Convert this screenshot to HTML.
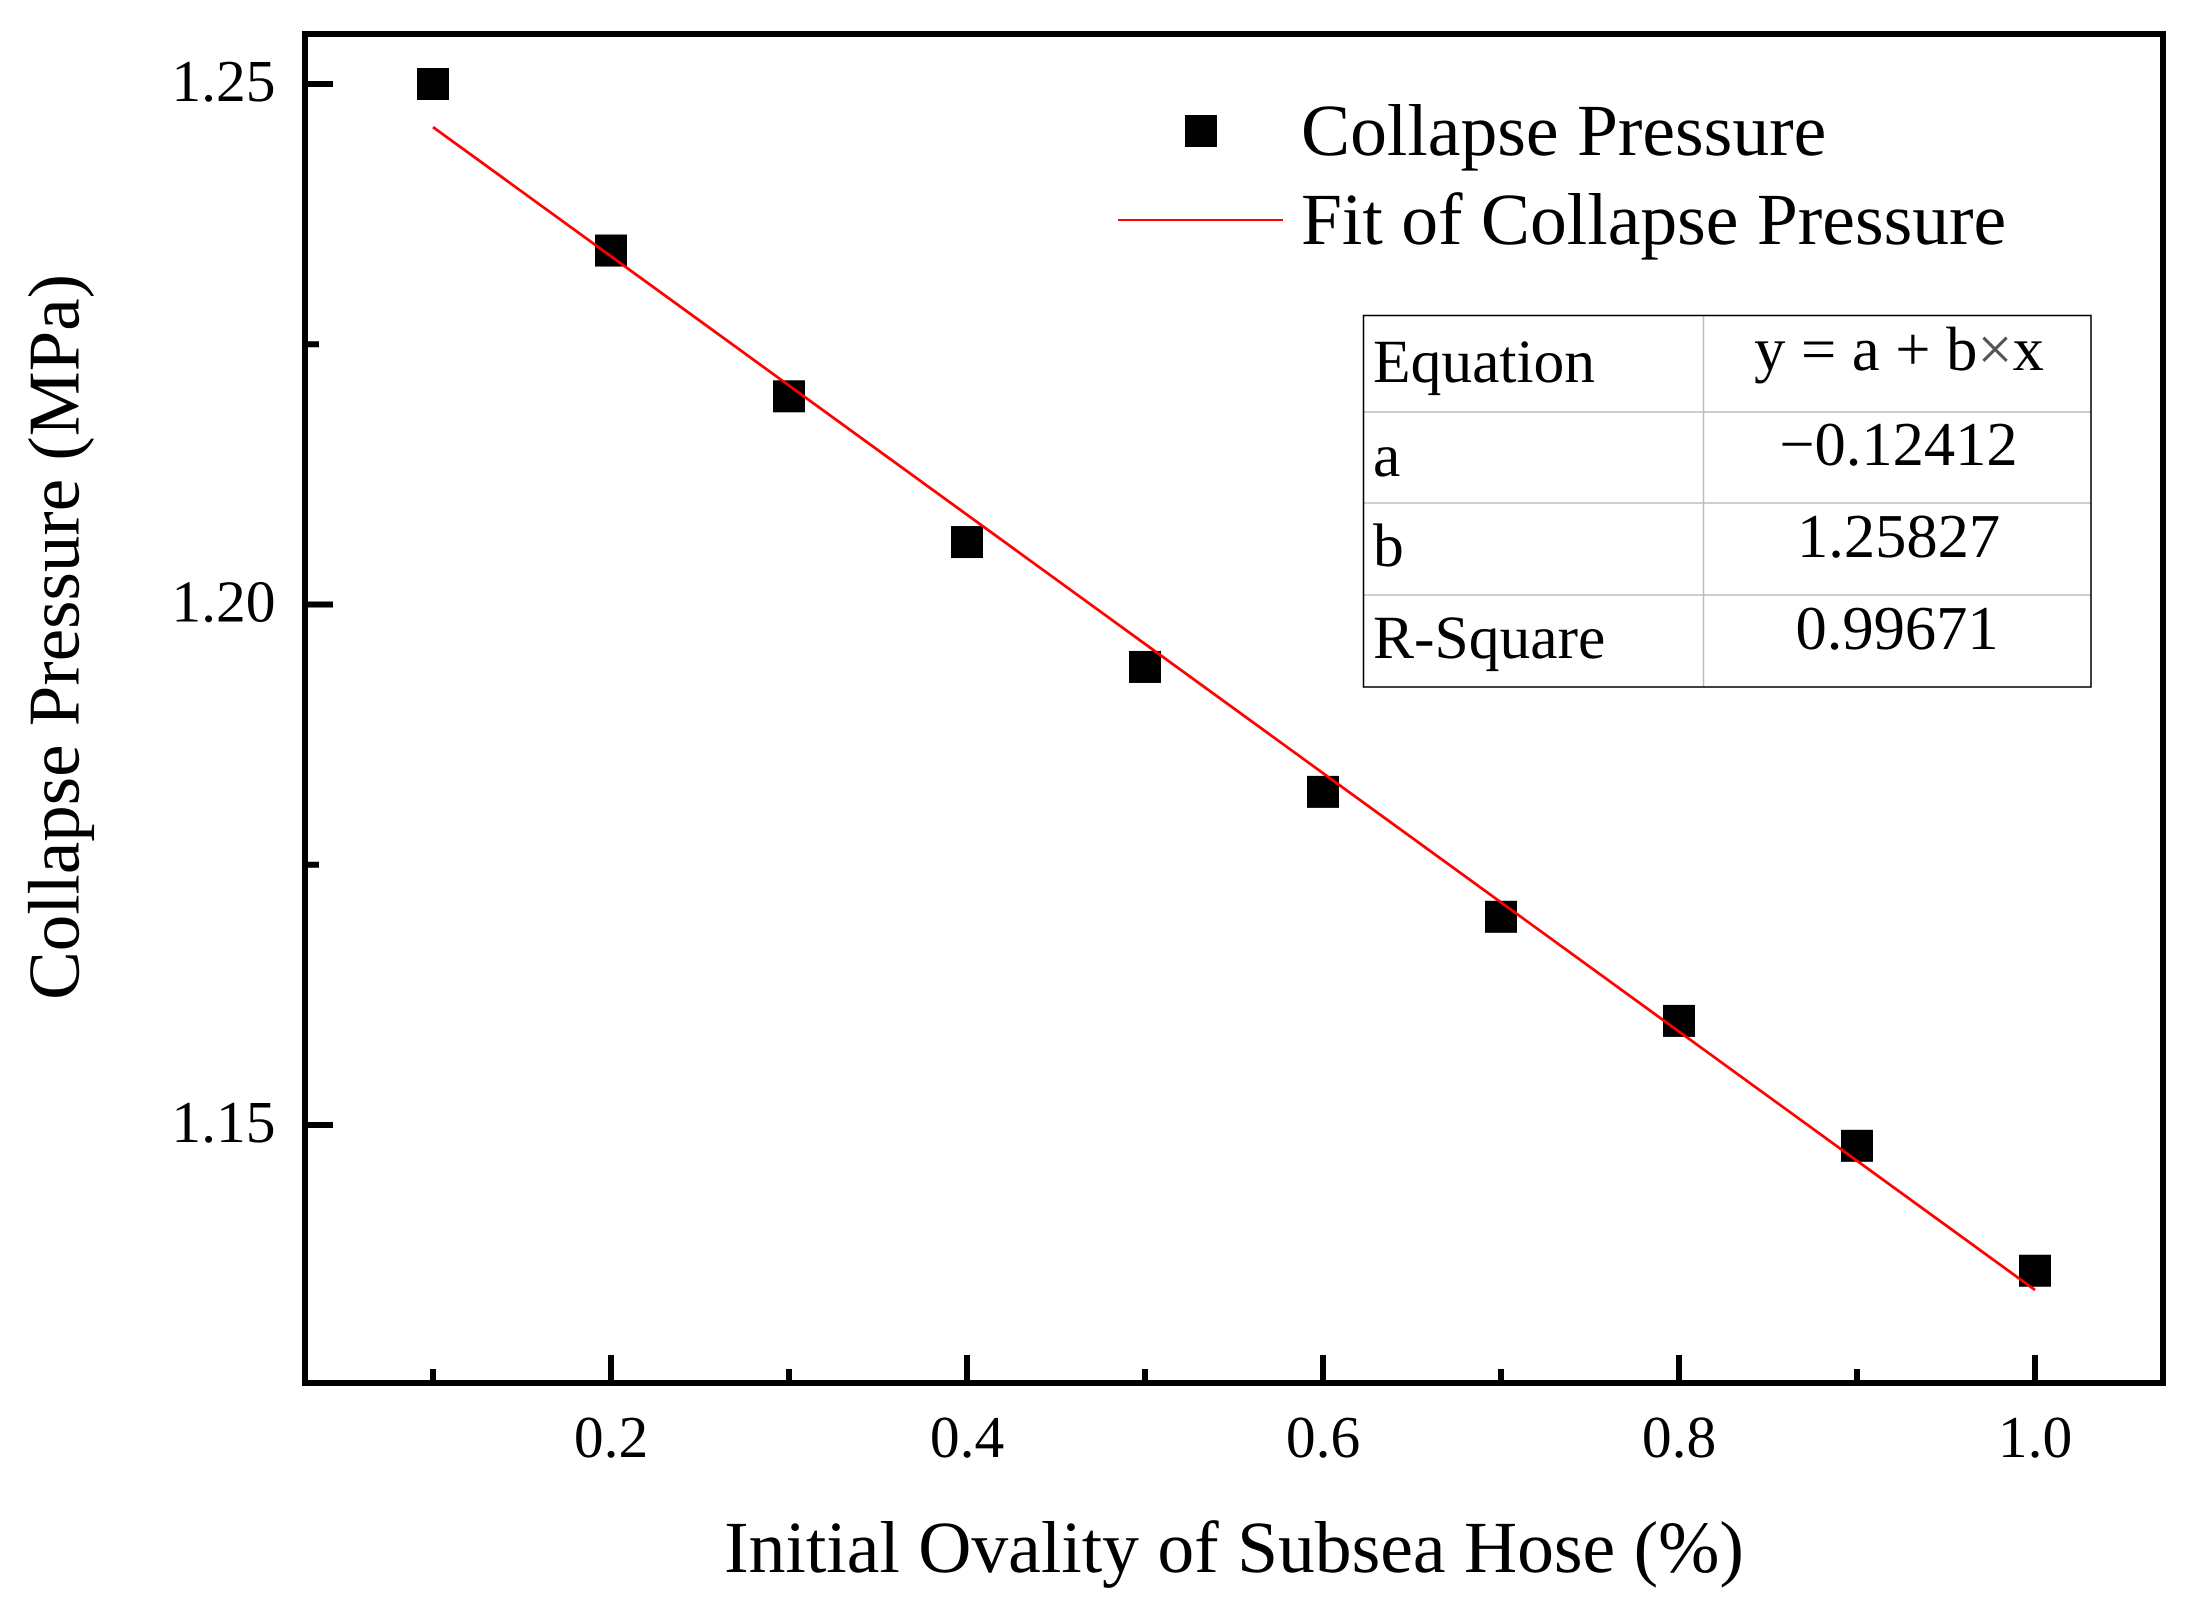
<!DOCTYPE html>
<html lang="en">
<head>
<meta charset="utf-8">
<title>Collapse Pressure vs Initial Ovality</title>
<style>
html,body{margin:0;padding:0;background:#fff;overflow:hidden;}
svg{display:block;}
text{font-family:"Liberation Serif","Times New Roman",serif;fill:#000;text-rendering:geometricPrecision;}
.leg,.title{font-size:73.6px;}
.tick{font-size:59.5px;}
.cell{font-size:61.5px;}
.val{font-size:62.5px;}
</style>
</head>
<body>
<svg id="chart" xmlns="http://www.w3.org/2000/svg" width="2200" height="1605" viewBox="0 0 2200 1605">
  <rect x="0" y="0" width="2200" height="1605" fill="#fff"/>
  <g id="ticks"></g>
  <g id="tick-labels"></g>
  <text class="title" x="1234" y="1572" text-anchor="middle">Initial Ovality of Subsea Hose (%)</text>
  <text style="font-size:73px" transform="translate(78.5 637) rotate(-90)" text-anchor="middle">Collapse Pressure (MPa)</text>
  <g id="points"></g>
  <g id="fit"></g>
  <rect x="305" y="34" width="1858" height="1349" fill="none" stroke="#000" stroke-width="6"/>
  <g>
    <rect x="1185" y="115" width="32" height="32" fill="#000"/>
    <text class="leg" x="1301" y="155">Collapse Pressure</text>
    <line x1="1118" y1="220" x2="1283" y2="220" stroke="#f00" stroke-width="2"/>
    <text class="leg" x="1301" y="244">Fit of Collapse Pressure</text>
  </g>
  <g>
    <line x1="1703.5" y1="316" x2="1703.5" y2="687" stroke="#bdbdbd" stroke-width="1.5"/>
    <line x1="1364" y1="412" x2="2091" y2="412" stroke="#bdbdbd" stroke-width="1.5"/>
    <line x1="1364" y1="503" x2="2091" y2="503" stroke="#bdbdbd" stroke-width="1.5"/>
    <line x1="1364" y1="595" x2="2091" y2="595" stroke="#bdbdbd" stroke-width="1.5"/>
    <rect x="1363.5" y="315.5" width="727.5" height="371.5" fill="none" stroke="#000" stroke-width="1.5"/>
    <text class="cell" x="1373" y="382">Equation</text>
    <text class="cell" x="1373" y="476">a</text>
    <text class="cell" x="1373" y="566">b</text>
    <text class="cell" x="1373" y="658">R-Square</text>
    <text class="val" x="1899" y="370" text-anchor="middle">y = a + b<tspan fill="#555">×</tspan>x</text>
    <text class="val" x="1898.5" y="465" text-anchor="middle">−0.12412</text>
    <text class="val" x="1898.5" y="557" text-anchor="middle">1.25827</text>
    <text class="val" x="1897" y="649" text-anchor="middle">0.99671</text>
  </g>
</svg>
<script>
const ovality = [0.1, 0.2, 0.3, 0.4, 0.5, 0.6, 0.7, 0.8, 0.9, 1.0];
const collapsePressure = [1.250, 1.234, 1.220, 1.206, 1.194, 1.182, 1.170, 1.160, 1.148, 1.136];
const fitIntercept = [1.25827];
const fitSlope = [-0.12412];
const xMajorTicks = [0.2, 0.4, 0.6, 0.8, 1.0];
const xMinorTicks = [0.1, 0.3, 0.5, 0.7, 0.9];
const yMajorTicks = [1.15, 1.20, 1.25];
const yMinorTicks = [1.175, 1.225];
const xTickLabels = ["0.2", "0.4", "0.6", "0.8", "1.0"];
const yTickLabels = ["1.15", "1.20", "1.25"];

const NS = 'http://www.w3.org/2000/svg';
function xScale(v) { return 433 + (v - 0.1) * 1780; }
function yScale(v) { return 84 + (1.25 - v) * 10410; }
function make(tag, parentId) {
  const el = document.createElementNS(NS, tag);
  document.getElementById(parentId).appendChild(el);
  return el;
}
function setLine(el, x1, y1, x2, y2) {
  el.setAttribute('x1', x1);
  el.setAttribute('y1', y1);
  el.setAttribute('x2', x2);
  el.setAttribute('y2', y2);
  el.setAttribute('stroke', '#000');
  el.setAttribute('stroke-width', 6);
}
xMajorTicks.forEach(function (v, i) {
  const t = make('line', 'ticks');
  setLine(t, xScale(v), 1355, xScale(v), 1383);
  
  
  const l = make('text', 'tick-labels');
  l.setAttribute('class', 'tick');
  l.setAttribute('x', xScale(v));
  l.setAttribute('y', 1457);
  l.setAttribute('text-anchor', 'middle');
  l.textContent = xTickLabels[i];
  
  
});
xMinorTicks.forEach(function (v) {
  const t = make('line', 'ticks');
  setLine(t, xScale(v), 1369, xScale(v), 1383);
  
  
});
yMajorTicks.forEach(function (v, i) {
  const t = make('line', 'ticks');
  setLine(t, 305, yScale(v), 333, yScale(v));
  
  
  const l = make('text', 'tick-labels');
  l.setAttribute('class', 'tick');
  l.setAttribute('x', 275.5);
  l.setAttribute('y', yScale(v) + 17);
  l.setAttribute('text-anchor', 'end');
  l.textContent = yTickLabels[i];
  
  
});
yMinorTicks.forEach(function (v) {
  const t = make('line', 'ticks');
  setLine(t, 305, yScale(v), 319, yScale(v));
  
  
});
ovality.forEach(function (v, i) {
  const p = make('rect', 'points');
  p.setAttribute('x', xScale(v) - 16);
  p.setAttribute('y', yScale(collapsePressure[i]) - 16);
  p.setAttribute('width', 32);
  p.setAttribute('height', 32);
  p.setAttribute('fill', '#000');
  
  
});
const firstX = ovality[0];
const lastX = ovality[ovality.length - 1];
const fitLine = make('line', 'fit');
fitLine.setAttribute('x1', xScale(firstX));
fitLine.setAttribute('y1', yScale(fitIntercept[0] + fitSlope[0] * firstX));
fitLine.setAttribute('x2', xScale(lastX));
fitLine.setAttribute('y2', yScale(fitIntercept[0] + fitSlope[0] * lastX));
fitLine.setAttribute('stroke', '#f00');
fitLine.setAttribute('stroke-width', 2.8);


</script>
</body>
</html>
